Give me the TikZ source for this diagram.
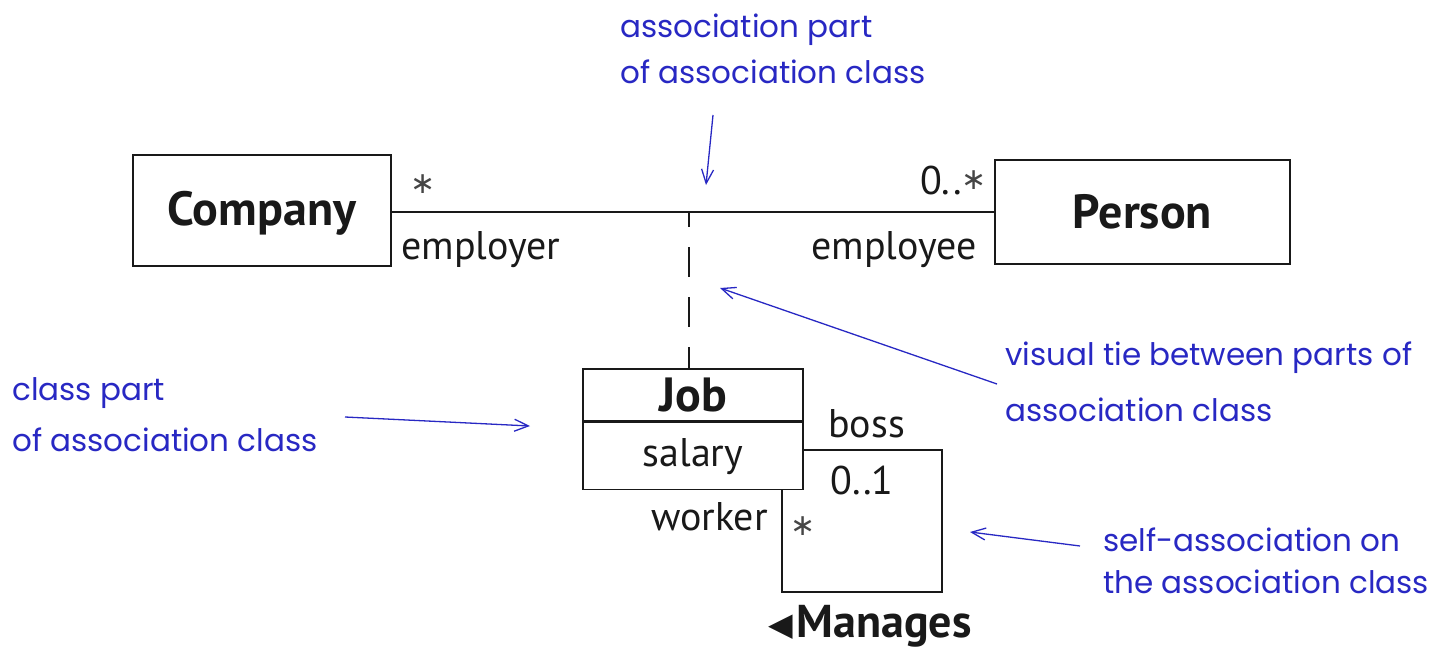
\documentclass[tikz,border=0pt]{standalone}
\usepackage{fontspec}
\setmainfont{PT Sans}
\newfontfamily\handfont{Poppins}
\newfontfamily\symfont{DejaVu Sans}
\usetikzlibrary{arrows.meta}
\definecolor{annot}{RGB}{40,40,195}
\definecolor{ink}{RGB}{25,25,25}
\definecolor{starink}{RGB}{70,70,70}
\newcommand{\umlstar}{{\symfont\fontsize{30}{30}\selectfont\color{starink}∗}}
\begin{document}
\begin{tikzpicture}[x=1pt,y=-1pt,
  cls/.style={draw=ink, line width=1.6pt, inner sep=0pt, font=\bfseries\fontsize{48}{52}\selectfont, text=ink},
  lbl/.style={font=\fontsize{40}{44}\selectfont, inner sep=0pt, text=ink},
  note/.style={font=\handfont\fontsize{31}{42}\selectfont, text=annot, align=left, inner sep=0pt, anchor=west},
  pointer/.style={draw=annot, line width=1.3pt, -{Straight Barb[length=14pt,width=12pt,line width=1.3pt]}},
  assoc/.style={draw=ink, line width=1.6pt},
]
\useasboundingbox (0,0) rectangle (1440,650);
% classes
\node[cls, minimum width=258pt, minimum height=111pt, text depth=4pt] (company) at (262,210.5) {Company};
\node[cls, minimum width=295pt, minimum height=104pt] (person) at (1142.5,212) {\raisebox{-3pt}{Person}};
\node[cls, minimum width=220pt, minimum height=52pt] (jobname) at (693,395) {Job};
\node[cls, minimum width=220pt, minimum height=67pt, anchor=north, font=\fontsize{40}{44}\selectfont] (jobattr) at (jobname.south) {salary};
% association
\coordinate (tie) at (689,212);
\draw[assoc] (company.east |- tie) -- (person.west |- tie);
\draw[assoc, dash pattern=on 30pt off 20pt, dash phase=15pt] (tie) -- (tie |- jobname.north);
% self association
\coordinate (l1) at (942,450);
\coordinate (l2) at (942,592);
\coordinate (l3) at (782,592);
\draw[assoc] (jobattr.east |- l1) -- (l1) -- (l2) -- (l3) -- (l3 |- jobattr.south);
% end labels
\node[lbl] (m1) at (423,184) {\umlstar};
\node[lbl, anchor=east] (m2) at (987,180) {0..\raisebox{5pt}{\umlstar}};
\node[lbl, anchor=west] (r1) at (401,250) {employer};
\node[lbl, anchor=east] (r2) at (977,250) {employee};
\node[lbl, anchor=west] (boss) at (828,424) {boss};
\node[lbl, anchor=west] (m3) at (830,480) {0..1};
\node[lbl, anchor=east] (worker) at (768,517) {worker};
\node[lbl] (m4) at (803,526) {\umlstar};
\node[lbl, anchor=west, font=\bfseries\fontsize{46}{50}\selectfont] (manages) at (768,626) {\raisebox{2pt}{\symfont\fontsize{32}{32}\selectfont ◀}\hspace{4pt}Manages};
% annotations
\node[note] (n1a) at (620,30) {association part};
\node[note] (n1b) at (620,72) {of association class};
\node[note] (n2a) at (1005,358) {visual tie between parts of};
\node[note] (n2b) at (1005,410) {association class};
\node[note] (n3a) at (12,393) {class part};
\node[note] (n3b) at (12,440) {of association class};
\node[note] (n4a) at (1103,540) {self-association on};
\node[note] (n4b) at (1103,582) {the association class};
% pointers
\coordinate (p1s) at (713,115);
\coordinate (p1e) at (706,185);
\coordinate (p2s) at (997,384);
\coordinate (p2e) at (720,288);
\coordinate (p3s) at (345,417);
\coordinate (p3e) at (530,426);
\coordinate (p4s) at (1080,546);
\coordinate (p4e) at (970,532);
\draw[pointer] (p1s) -- (p1e);
\draw[pointer] (p2s) -- (p2e);
\draw[pointer] (p3s) -- (p3e);
\draw[pointer] (p4s) -- (p4e);
\end{tikzpicture}
\end{document}
